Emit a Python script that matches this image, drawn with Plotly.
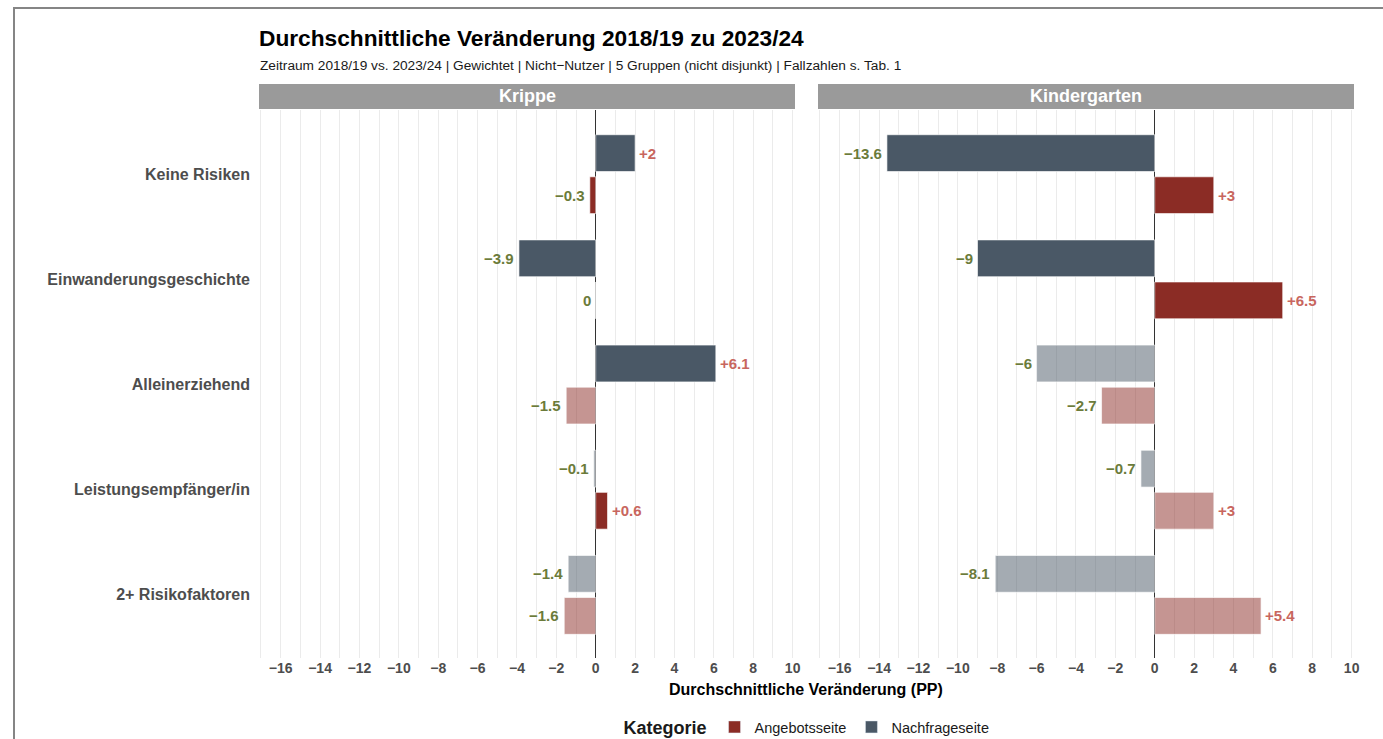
import plotly.graph_objects as go

# ---------------- data ----------------
categories = ["Keine Risiken", "Einwanderungsgeschichte", "Alleinerziehend",
              "Leistungsempfänger/in", "2+ Risikofaktoren"]
panels = ["Krippe", "Kindergarten"]
series_names = ["Nachfrageseite", "Angebotsseite"]

krippe_nachfrage = [2.0, -3.9, 6.1, -0.1, -1.4]
krippe_angebot = [-0.3, 0.0, -1.5, 0.6, -1.6]
kiga_nachfrage = [-13.6, -9.0, -6.0, -0.7, -8.1]
kiga_angebot = [3.0, 6.5, -2.7, 3.0, 5.4]

# significance (full colour) vs. faded
krippe_nachfrage_sig = [True, True, True, False, False]
krippe_angebot_sig = [True, True, False, True, False]
kiga_nachfrage_sig = [True, True, False, False, False]
kiga_angebot_sig = [True, True, False, False, False]

x_tick_values = [-16, -14, -12, -10, -8, -6, -4, -2, 0, 2, 4, 6, 8, 10]

# ---------------- styling ----------------
W, H = 1383, 739
FONT = "Liberation Sans, Arial, sans-serif"
COL = {"Nachfrageseite": ("#4A5866", "rgba(74,88,102,0.5)"),
       "Angebotsseite": ("#8B2C25", "rgba(139,44,37,0.5)")}
NEG_COL = "#6B7B3A"
POS_COL = "#C8665E"
GRID = "#EBEBEB"


def px(x):
    return x / W


def py(y):
    return 1 - y / H


def fmt(v):
    if v > 0:
        return "+" + ("%g" % v)
    if v < 0:
        return "\u2212" + ("%g" % abs(v))
    return "0"


panel_data = {
    "Krippe": {"Nachfrageseite": (krippe_nachfrage, krippe_nachfrage_sig),
               "Angebotsseite": (krippe_angebot, krippe_angebot_sig)},
    "Kindergarten": {"Nachfrageseite": (kiga_nachfrage, kiga_nachfrage_sig),
                     "Angebotsseite": (kiga_angebot, kiga_angebot_sig)},
}
dodge = {"Nachfrageseite": -0.2, "Angebotsseite": 0.2}
BAR_W = 0.35

fig = go.Figure()
annotations = []

for p_i, panel in enumerate(panels):
    xa = "x" if p_i == 0 else "x2"
    ya = "y" if p_i == 0 else "y2"
    for s in series_names:
        vals, sig = panel_data[panel][s]
        ypos = [i + dodge[s] for i in range(len(categories))]
        colors = [COL[s][0] if g else COL[s][1] for g in sig]
        fig.add_trace(go.Bar(
            x=vals, y=ypos, orientation="h", width=BAR_W,
            marker=dict(color=colors, line=dict(color="rgba(255,255,255,0.8)", width=0.8)),
            xaxis=xa, yaxis=ya, showlegend=False, name=s,
            hovertemplate=panel + " | " + s + ": %{x}<extra></extra>",
        ))
        for v, yp in zip(vals, ypos):
            annotations.append(dict(
                x=v, y=yp, xref=xa, yref=ya, text=fmt(v), showarrow=False,
                xanchor="left" if v > 0 else "right", yanchor="middle",
                xshift=2 if v > 0 else -3,
                font=dict(family=FONT, size=15, color=POS_COL if v > 0 else NEG_COL, weight="bold"),
            ))

# legend-only traces
for s in ["Angebotsseite", "Nachfrageseite"]:
    fig.add_trace(go.Bar(x=[None], y=[None], name=s, marker=dict(color=COL[s][0]),
                         showlegend=True, xaxis="x", yaxis="y"))

xaxis_common = dict(
    range=[-17.1, 10.12], tickmode="array", tickvals=x_tick_values,
    ticktext=[fmt(t).replace("+", "") for t in x_tick_values],
    showgrid=True, gridcolor=GRID, gridwidth=1,
    minor=dict(dtick=1, tick0=0, showgrid=True, gridcolor=GRID, gridwidth=1),
    zeroline=True, zerolinecolor="#333333", zerolinewidth=1,
    showline=False, ticks="", automargin=False,
    tickfont=dict(family=FONT, size=14, color="#4D4D4D", weight="bold"),
    fixedrange=True,
)
yaxis_common = dict(
    range=[4.6, -0.61], tickmode="array", tickvals=list(range(len(categories))),
    ticktext=categories, showgrid=False, zeroline=False, showline=False,
    ticks="", automargin=False, fixedrange=True,
    domain=[py(658), py(110)],
    tickfont=dict(family=FONT, size=16, color="#4D4D4D", weight="bold"),
)

fig.update_layout(
    width=W, height=H,
    margin=dict(l=0, r=0, t=0, b=0, autoexpand=False),
    paper_bgcolor="white", plot_bgcolor="white",
    barmode="overlay",
    font=dict(family=FONT, color="#1A1A1A"),
    xaxis=dict(domain=[px(259), px(795)], anchor="y", **xaxis_common),
    xaxis2=dict(domain=[px(818), px(1354)], anchor="y2", **xaxis_common),
    yaxis=dict(anchor="x", ticklabelstandoff=8, **yaxis_common),
    yaxis2=dict(anchor="x2", showticklabels=False, **yaxis_common),
    showlegend=True,
    legend=dict(
        orientation="h", x=px(808), xanchor="center", y=py(728), yanchor="middle",
        title=dict(text="Kategorie", font=dict(family=FONT, size=18, color="#1A1A1A", weight="bold")),
        font=dict(family=FONT, size=14.5, color="#1A1A1A"),
        bgcolor="rgba(0,0,0,0)", traceorder="normal",
    ),
)

# title / subtitle / axis title
annotations += [
    dict(x=px(257), y=py(38), xref="paper", yref="paper", showarrow=False,
         xanchor="left", yanchor="middle", text="Durchschnittliche Veränderung 2018/19 zu 2023/24",
         font=dict(family=FONT, size=22.7, color="#000000", weight="bold")),
    dict(x=px(258), y=py(65), xref="paper", yref="paper", showarrow=False,
         xanchor="left", yanchor="middle",
         text="Zeitraum 2018/19 vs. 2023/24 | Gewichtet | Nicht\u2212Nutzer | 5 Gruppen (nicht disjunkt) | Fallzahlen s. Tab. 1",
         font=dict(family=FONT, size=13.7, color="#1A1A1A")),
    dict(x=px(806), y=py(689), xref="paper", yref="paper", showarrow=False,
         xanchor="center", yanchor="middle", text="Durchschnittliche Veränderung (PP)",
         font=dict(family=FONT, size=16, color="#000000", weight="bold")),
]

shapes = []
for p_i, panel in enumerate(panels):
    xd = "x domain" if p_i == 0 else "x2 domain"
    shapes.append(dict(type="rect", xref=xd, yref="paper", x0=0, x1=1, y0=py(109), y1=py(84),
                       fillcolor="#9A9A9A", line=dict(width=0), layer="below"))
    annotations.append(dict(x=0.5, y=py(96.5), xref=xd, yref="paper", showarrow=False,
                            xanchor="center", yanchor="middle", text=panel,
                            font=dict(family=FONT, size=18, color="white", weight="bold")))

# outer frame (top and left edges)
shapes.append(dict(type="line", xref="paper", yref="paper", x0=px(13), x1=1, y0=py(8), y1=py(8),
                   line=dict(color="#858585", width=2)))
shapes.append(dict(type="line", xref="paper", yref="paper", x0=px(14), x1=px(14), y0=py(8), y1=0,
                   line=dict(color="#858585", width=2)))

fig.update_layout(annotations=annotations, shapes=shapes)

fig.write_html(
    "out.html",
    config={"displayModeBar": False},
    post_script="document.body.style.margin='0px';document.body.style.overflow='hidden';",
)
